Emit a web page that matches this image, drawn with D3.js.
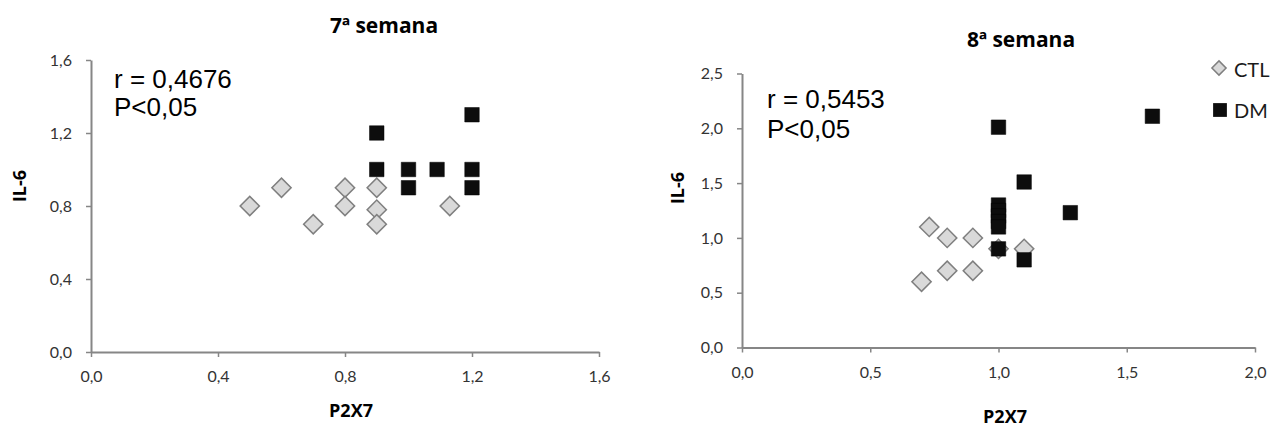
<!DOCTYPE html>
<html><head><meta charset="utf-8">
<script src="https://cdn.jsdelivr.net/npm/d3@7"></script>
<style>body{margin:0;background:#fff;}svg{display:block;}</style>
</head><body>
<svg id="c" width="1275" height="430"></svg>
<script>
// ---- data ----
const titles = ["7ª semana", "8ª semana"];
const stats = [["r = 0,4676", "P<0,05"], ["r = 0,5453", "P<0,05"]];
const xTicks1 = [0, 0.4, 0.8, 1.2, 1.6];
const yTicks1 = [0, 0.4, 0.8, 1.2, 1.6];
const xTicks2 = [0, 0.5, 1.0, 1.5, 2.0];
const yTicks2 = [0, 0.5, 1.0, 1.5, 2.0, 2.5];
// week 7
const ctl7x = [0.5, 0.6, 0.7, 0.8, 0.8, 0.9, 0.9, 0.9, 1.13];
const ctl7y = [0.8, 0.9, 0.7, 0.9, 0.8, 0.9, 0.78, 0.7, 0.8];
const dm7x  = [0.9, 0.9, 1.0, 1.0, 1.09, 1.2, 1.2, 1.2];
const dm7y  = [1.2, 1.0, 1.0, 0.9, 1.0, 1.3, 1.0, 0.9];
// week 8
const ctl8x = [0.73, 0.8, 0.9, 0.7, 0.8, 0.9, 1.0, 1.1];
const ctl8y = [1.1, 1.0, 1.0, 0.6, 0.7, 0.7, 0.9, 0.9];
const dm8x  = [1.0, 1.1, 1.28, 1.6, 1.0, 1.0, 1.0, 1.0, 1.0, 1.0, 1.1];
const dm8y  = [2.01, 1.51, 1.23, 2.11, 1.3, 1.25, 1.2, 1.15, 1.1, 0.9, 0.8];
const legendLabels = ["CTL", "DM"];
const axisTitleX = "P2X7", axisTitleY = "IL-6";

// ---- drawing ----
const svg = d3.select("#c");
const fmt = d => d3.format(".1f")(d).replace(".", ",");
const tickFont = "Lato, 'Open Sans', sans-serif";
const titleFont = "'Open Sans', Lato, sans-serif";
const diamond = d3.symbol(d3.symbolSquare, 185)();
const square = d3.symbol(d3.symbolSquare, 210)();

function panel(cfg) {
  const x = d3.scaleLinear().domain(cfg.xd).range(cfg.xr);
  const y = d3.scaleLinear().domain(cfg.yd).range(cfg.yr);
  const g = svg.append("g");
  const ax = g.append("g").attr("transform", `translate(0,${cfg.yr[0]})`)
    .call(d3.axisBottom(x).tickValues(cfg.xt).tickFormat(fmt).tickSize(5).tickSizeOuter(0).tickPadding(14));
  const ay = g.append("g").attr("transform", `translate(${cfg.xr[0]},0)`)
    .call(d3.axisLeft(y).tickValues(cfg.yt).tickFormat(fmt).tickSize(5).tickSizeOuter(0).tickPadding(14));
  [ax, ay].forEach(a => {
    a.select(".domain").attr("stroke", "#868686").attr("stroke-width", 2);
    a.selectAll(".tick line").attr("stroke", "#868686").attr("stroke-width", 1.5);
    a.selectAll(".tick text").attr("fill", "#333").attr("font-family", tickFont).attr("font-size", 16);
  });
  g.append("text").attr("x", cfg.titleX).attr("y", cfg.titleY).attr("text-anchor", "middle")
    .attr("font-family", titleFont).attr("font-weight", "bold").attr("font-size", 21).attr("fill", "#000").text(cfg.title);
  g.append("text").attr("x", cfg.axX[0]).attr("y", cfg.axX[1]).attr("text-anchor", "middle")
    .attr("font-family", titleFont).attr("font-weight", "bold").attr("font-size", 18).attr("fill", "#000").text(axisTitleX);
  g.append("text").attr("transform", `translate(${cfg.axY[0]},${cfg.axY[1]}) rotate(-90)`).attr("text-anchor", "middle")
    .attr("font-family", titleFont).attr("font-weight", "bold").attr("font-size", 18).attr("fill", "#000").text(axisTitleY);
  cfg.stats.forEach((s, i) => g.append("text").attr("x", cfg.statX).attr("y", cfg.statY[i])
    .attr("font-family", "'Liberation Sans', Arial, sans-serif").attr("font-size", 26).attr("fill", "#000").text(s));
  g.selectAll(".ctl").data(d3.zip(cfg.cx, cfg.cy)).join("path").attr("class", "ctl")
    .attr("d", diamond).attr("transform", d => `translate(${x(d[0])},${y(d[1])}) rotate(45)`)
    .attr("fill", "#d9d9d9").attr("stroke", "#7f7f7f").attr("stroke-width", 1.5);
  g.selectAll(".dm").data(d3.zip(cfg.dx, cfg.dy)).join("path").attr("class", "dm")
    .attr("d", square).attr("transform", d => `translate(${x(d[0])},${y(d[1])})`)
    .attr("fill", "#0d0d0d").attr("stroke", "#000").attr("stroke-width", 0.5);
}

panel({xd: [0, 1.6], xr: [91, 599], yd: [0, 1.6], yr: [352, 60], xt: xTicks1, yt: yTicks1,
  title: titles[0], titleX: 384, titleY: 33, axX: [351, 417], axY: [26, 186],
  stats: stats[0], statX: 114, statY: [88, 116], cx: ctl7x, cy: ctl7y, dx: dm7x, dy: dm7y});
panel({xd: [0, 2.0], xr: [742, 1255], yd: [0, 2.5], yr: [347.5, 73.5], xt: xTicks2, yt: yTicks2,
  title: titles[1], titleX: 1021, titleY: 47, axX: [1005, 423], axY: [684, 188],
  stats: stats[1], statX: 767, statY: [108, 138], cx: ctl8x, cy: ctl8y, dx: dm8x, dy: dm8y});

// legend
const lg = svg.append("g");
lg.append("path").attr("d", d3.symbol(d3.symbolSquare, 100)()).attr("transform", "translate(1219,68) rotate(45)")
  .attr("fill", "#d9d9d9").attr("stroke", "#7f7f7f").attr("stroke-width", 1.5);
lg.append("path").attr("d", d3.symbol(d3.symbolSquare, 190)()).attr("transform", "translate(1220,110)")
  .attr("fill", "#0d0d0d");
lg.selectAll("text.lab").data(legendLabels).join("text").attr("class", "lab")
  .attr("x", 1234).attr("y", (d, i) => 77 + i * 41).attr("font-family", tickFont).attr("font-size", 20)
  .attr("fill", "#1a1a1a").text(d => d);
</script>
</body></html>
